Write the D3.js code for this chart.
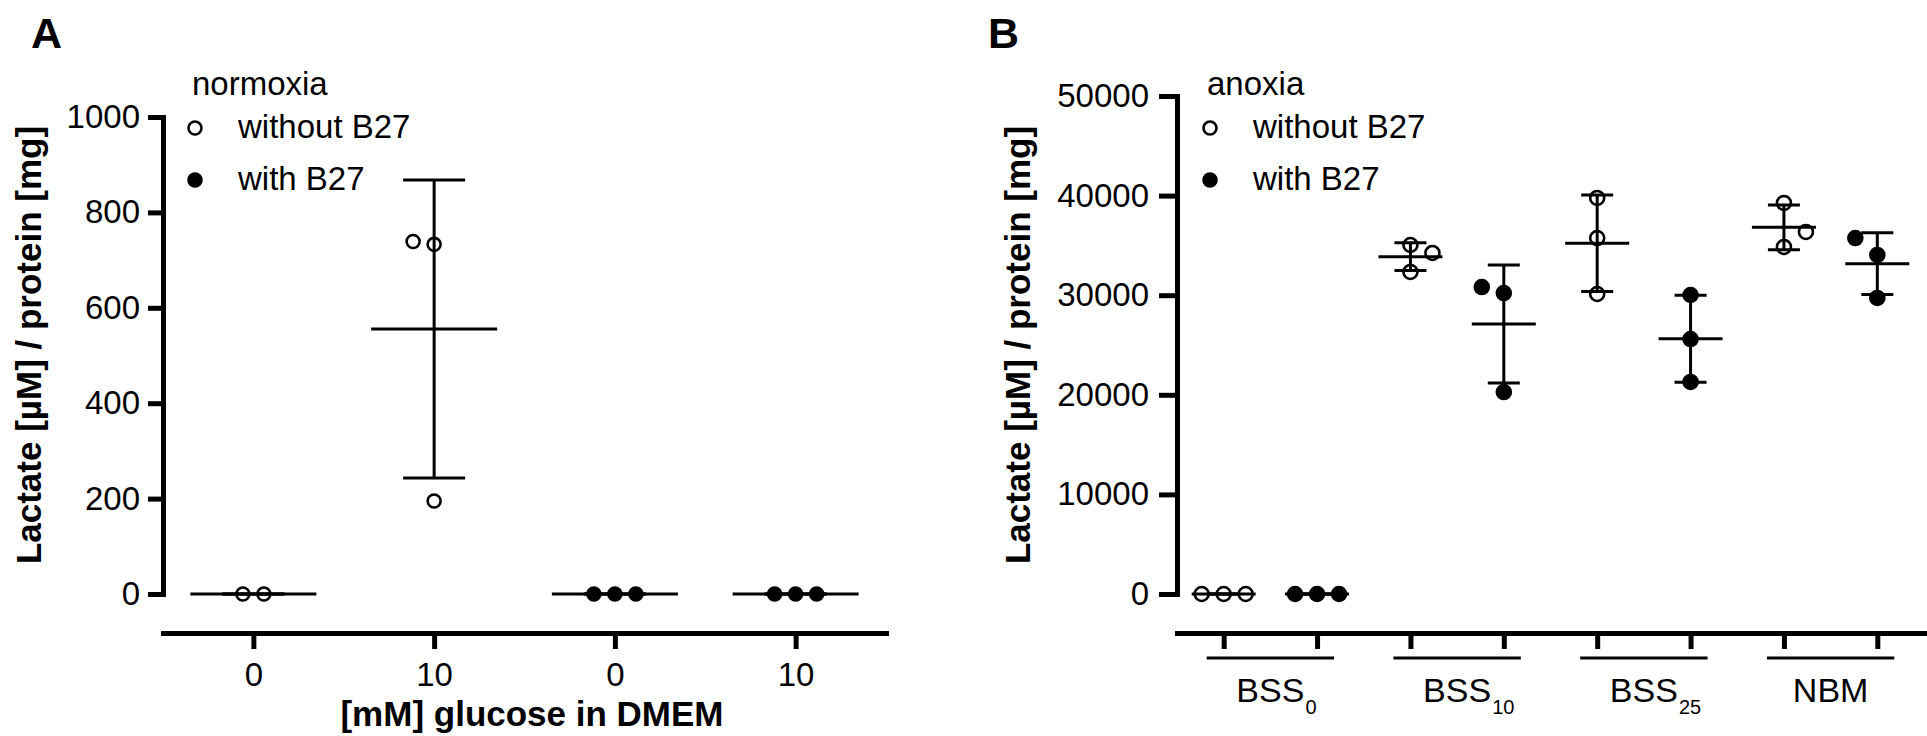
<!DOCTYPE html>
<html><head><meta charset="utf-8">
<script src="https://cdn.jsdelivr.net/npm/d3@7"></script>
<style>
html,body{margin:0;padding:0;background:#fff;}
svg{display:block;}
</style></head><body>
<svg id="chart" width="1927" height="736"></svg>
<script>
// ---------- Panel A data (normoxia) ----------
const aCategories = ["0", "10", "0", "10"];
const aSeriesOf = ["without", "without", "with", "with"];
const aValues = [[0, 0], [733, 195, 739], [0, 0, 0], [0, 0, 0]];
const aTicks = [0, 200, 400, 600, 800, 1000];
const aLegendTitle = "normoxia";
const aXTitle = "[mM] glucose in DMEM";

// ---------- Panel B data (anoxia) ----------
const bGroupNames = ["BSS", "BSS", "BSS", "NBM"];
const bGroupSubs = ["0", "10", "25", ""];
const bWithout = [[0, 0, 0], [35040, 32330, 34240], [39760, 35740, 30120], [39260, 34840, 36350]];
const bWith = [[0, 0, 0], [30220, 20280, 30820], [30020, 25600, 21290], [34040, 29720, 35740]];
const bTicks = [0, 10000, 20000, 30000, 40000, 50000];
const bLegendTitle = "anoxia";

const seriesKeys = ["without", "with"];
const legendLabels = ["without B27", "with B27"];
const yTitle = "Lactate [µM] / protein [mg]";

const FONT = '"Liberation Sans", Arial, Helvetica, sans-serif';
const svg = d3.select("#chart").attr("font-family", FONT);

function swarm(vals, y, step, pref, thr) {
  const placed = [];
  vals.forEach(v => {
    const py = y(v);
    const cands = [0];
    for (let k = 1; k < 6; k++) { cands.push(pref * k * step, -pref * k * step); }
    for (const dx of cands) {
      if (placed.every(p => Math.hypot(p.dx - dx, p.py - py) >= thr)) { placed.push({v, dx, py}); break; }
    }
  });
  if (placed.length > 1 && vals.every(v => v === vals[0])) {
    const m = d3.mean(placed, p => p.dx);
    placed.forEach(p => p.dx -= m);
  }
  return placed;
}

function drawYAxis(scale, x, ticks, tickLen, pad) {
  const g = svg.append("g").attr("transform", `translate(${x},0)`);
  g.call(d3.axisLeft(scale).tickValues(ticks).tickSize(tickLen).tickSizeOuter(0).tickPadding(pad).tickFormat(d3.format("d")));
  g.attr("font-family", FONT).attr("font-size", 33);
  g.select(".domain").attr("stroke", "#000").attr("stroke-width", 5).attr("stroke-linecap", "square");
  g.selectAll(".tick line").attr("stroke", "#000").attr("stroke-width", 5);
  g.selectAll(".tick text").attr("fill", "#000");
  return g;
}

function drawXAxis(scale, y, fmt) {
  const g = svg.append("g").attr("transform", `translate(0,${y})`);
  g.call(d3.axisBottom(scale).tickSize(16).tickSizeOuter(0).tickPadding(14).tickFormat(fmt));
  g.attr("font-family", FONT).attr("font-size", 33);
  g.select(".domain").attr("stroke", "#000").attr("stroke-width", 5).attr("stroke-linecap", "square");
  g.selectAll(".tick line").attr("stroke", "#000").attr("stroke-width", 5);
  g.selectAll(".tick text").attr("fill", "#000");
  return g;
}

function drawColumns(columns, x, y, opt) {
  const g = svg.append("g");
  columns.forEach((col, i) => {
    const cx = x(i);
    const pref = col.series === "without" ? opt.prefWithout : -opt.prefWithout;
    const pts = swarm(col.values, y, opt.step, pref, opt.thr);
    const filled = col.series === "with";
    g.selectAll(null).data(pts).enter().append("circle")
      .attr("cx", p => cx + p.dx).attr("cy", p => p.py).attr("r", opt.r)
      .attr("fill", filled ? "#000" : "none")
      .attr("stroke", "#000").attr("stroke-width", 2.6);
    const m = d3.mean(col.values);
    const sd = d3.deviation(col.values) || 0;
    const ln = (x1, y1, x2, y2) => g.append("line").attr("x1", x1).attr("y1", y1).attr("x2", x2).attr("y2", y2)
      .attr("stroke", "#000").attr("stroke-width", 3);
    ln(cx - opt.meanW, y(m), cx + opt.meanW, y(m));
    ln(cx, y(m + sd), cx, y(m - sd));
    ln(cx - opt.capW, y(m + sd), cx + opt.capW, y(m + sd));
    ln(cx - opt.capW, y(m - sd), cx + opt.capW, y(m - sd));
  });
}

function drawLegend(title, tx, mx, r) {
  const g = svg.append("g").attr("font-size", 33).attr("fill", "#000");
  g.append("text").attr("x", mx - 3).attr("y", 95).text(title);
  const rows = [128, 180];
  seriesKeys.forEach((k, i) => {
    g.append("circle").attr("cx", mx).attr("cy", rows[i]).attr("r", r)
      .attr("fill", k === "with" ? "#000" : "none").attr("stroke", "#000").attr("stroke-width", 2.6);
    g.append("text").attr("x", tx).attr("y", rows[i] + 10).text(legendLabels[i]);
  });
}

function drawYTitle(x, y) {
  svg.append("text").attr("transform", `translate(${x},${y}) rotate(-90)`)
    .attr("text-anchor", "middle").attr("font-size", 35).attr("font-weight", "bold")
    .attr("fill", "#000").text(yTitle);
}

// ================= Panel A =================
const yA = d3.scaleLinear().domain([0, 1000]).range([594, 117]);
const xA = d3.scalePoint().domain(d3.range(aCategories.length)).range([163, 886]).padding(0.5);
drawYAxis(yA, 163, aTicks, 15, 8);
drawXAxis(xA, 633, i => aCategories[i]);
const aCols = aValues.map((v, i) => ({series: aSeriesOf[i], values: v}));
drawColumns(aCols, xA, yA, {r: 6.5, step: 21, thr: 18, prefWithout: -1, meanW: 63, capW: 31});
drawLegend(aLegendTitle, 238, 195, 6.5);
drawYTitle(41, 345);
svg.append("text").attr("x", 532).attr("y", 726).attr("text-anchor", "middle")
  .attr("font-size", 35).attr("font-weight", "bold").attr("fill", "#000").text(aXTitle);
svg.append("text").attr("x", 31).attr("y", 48).attr("font-size", 43).attr("font-weight", "bold").text("A");

// ================= Panel B =================
const yB = d3.scaleLinear().domain([0, 50000]).range([594, 96]);
const bCols = [];
bGroupNames.forEach((n, g) => {
  bCols.push({series: "without", values: bWithout[g]});
  bCols.push({series: "with", values: bWith[g]});
});
const xB = d3.scalePoint().domain(d3.range(bCols.length)).range([1177, 1924]).padding(0.5);
drawYAxis(yB, 1177, bTicks, 18, 10);
drawXAxis(xB, 633, () => "");
drawColumns(bCols, xB, yB, {r: 7, step: 22, thr: 18, prefWithout: 1, meanW: 32, capW: 16});
drawLegend(bLegendTitle, 1253, 1210, 6.5);
drawYTitle(1030, 345);
svg.append("text").attr("x", 988).attr("y", 48).attr("font-size", 43).attr("font-weight", "bold").text("B");

// group underlines and labels
const gl = svg.append("g").attr("fill", "#000");
bGroupNames.forEach((n, g) => {
  const x1 = xB(2 * g), x2 = xB(2 * g + 1), c = (x1 + x2) / 2;
  gl.append("line").attr("x1", x1 - 17).attr("x2", x2 + 17).attr("y1", 658).attr("y2", 658)
    .attr("stroke", "#000").attr("stroke-width", 3);
  const t = gl.append("text").attr("x", c).attr("y", 702).attr("text-anchor", "middle").attr("font-size", 34).text(n);
  if (bGroupSubs[g]) {
    const w = t.node().getComputedTextLength();
    gl.append("text").attr("x", c + w / 2 + 1).attr("y", 714).attr("font-size", 20).text(bGroupSubs[g]);
  }
});
</script>
</body></html>
